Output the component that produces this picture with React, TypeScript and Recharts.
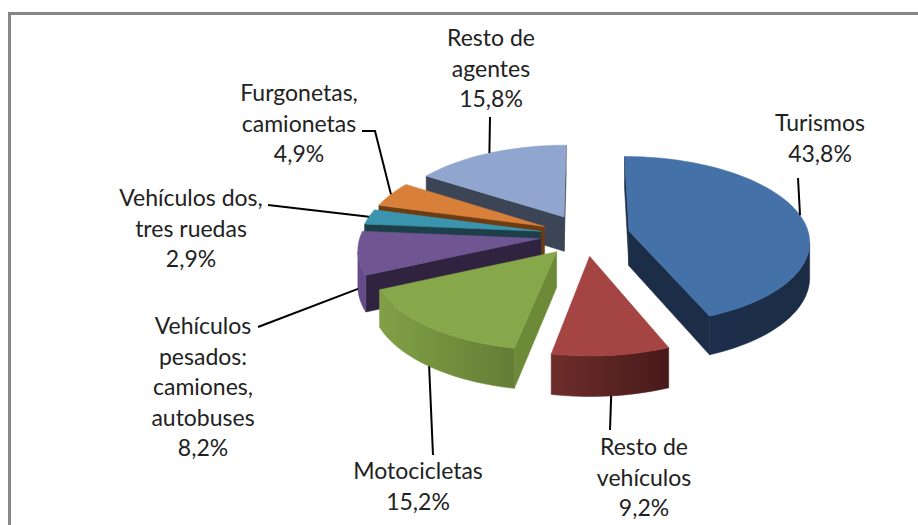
import { PieChart, Pie } from 'recharts';

// slices listed in drawing order (back to front) = counter-clockwise from 12 o'clock
const CATEGORIES = [
  'Resto de\nagentes',
  'Furgonetas,\ncamionetas',
  'Vehículos dos,\ntres ruedas',
  'Vehículos\npesados:\ncamiones,\nautobuses',
  'Motocicletas',
  'Resto de\nvehículos',
  'Turismos',
];
const SHARES = [15.8, 4.9, 2.9, 8.2, 15.2, 9.2, 43.8];

const TOP_COLORS = ['#91a6cf', '#d8803a', '#3a94ad', '#6f5591', '#87a74b', '#a54543', '#4471a7'];
const WALL_COLORS = [
  ['#4a5468', '#3c4556'],
  ['#8a4a18', '#6b3a12'],
  ['#256070', '#1c3f49'],
  ['#654b88', '#4e3a6c'],
  ['#82a046', '#5a7330'],
  ['#6e2d2b', '#471a19'],
  ['#1e3150', '#1b2c44'],
];
const FACE_COLORS = ['#3c4556', '#6e3c12', '#1c3f49', '#2f2340', '#6c8a37', '#5a2322', '#1c2e47'];

// label layout: centre x, first baseline, leader start point(s)
const LABELS = [
  { x: 491, y: 46, lead: [[490, 117]] },
  { x: 299, y: 101, lead: [[362, 131], [375, 131]] },
  { x: 191, y: 206, lead: [[268, 205]] },
  { x: 203, y: 334, lead: [[258, 327]] },
  { x: 418, y: 479, lead: [[433, 455]] },
  { x: 644, y: 455, lead: [[610, 430]] },
  { x: 820, y: 131, lead: [[798, 178]] },
];

const W = 918;
const H = 525;
const CX = 585;
const CY = 235;
const RADIUS = 180;
const TILT = 0.464;
const PERSP = 0.11;
const DEPTH = 35;
const EXPLODE = 45;
const LINE_H = 30.5;
const FONT = 'Lato, "Open Sans", sans-serif';
const RAD = Math.PI / 180;

const data = CATEGORIES.map((name, i) => ({ name, value: SHARES[i] }));

// in-plane coords (X right, F toward viewer) -> screen, with a bit of perspective
function project(X: number, F: number, z: number, cx: number, cy: number, r: number) {
  const s = 1 / (1 - (PERSP * F) / r);
  return [cx + X * s, cy + (F * TILT + z * DEPTH) * s];
}

function slicePoints(props: any) {
  const { outerRadius, startAngle, endAngle } = props;
  const mid = ((startAngle + endAngle) / 2) * RAD;
  const ox = EXPLODE * Math.cos(mid);
  const of = -EXPLODE * Math.sin(mid);
  const pts: number[][] = [[ox, of]];
  const steps = Math.max(2, Math.ceil(Math.abs(endAngle - startAngle) / 2));
  for (let i = 0; i <= steps; i++) {
    const a = (startAngle + ((endAngle - startAngle) * i) / steps) * RAD;
    pts.push([ox + outerRadius * Math.cos(a), of - outerRadius * Math.sin(a)]);
  }
  return pts;
}

const toStr = (pts: number[][]) => pts.map((p) => `${p[0].toFixed(2)},${p[1].toFixed(2)}`).join(' ');

function renderSlice(props: any) {
  const { cx, cy, outerRadius, index } = props;
  const pts = slicePoints(props);
  const n = pts.length;
  const top = pts.map(([X, F]) => project(X, F, 0, cx, cy, outerRadius));
  const bot = pts.map(([X, F]) => project(X, F, 1, cx, cy, outerRadius));
  let area = 0;
  for (let i = 0; i < n; i++) {
    const j = (i + 1) % n;
    area += top[i][0] * top[j][1] - top[j][0] * top[i][1];
  }
  const sign = Math.sign(area);
  const visible = (i: number, j: number) => sign * (top[j][0] - top[i][0]) < 0;
  const xs = bot.map((p) => p[0]);
  const gid = `wall-${index}`;
  const faces = [];

  // radial faces: apex -> first arc point, last arc point -> apex
  [[0, 1], [n - 1, 0]].forEach(([i, j]) => {
    if (!visible(i, j)) return;
    faces.push(
      <polygon key={`r${i}`} points={toStr([top[i], top[j], bot[j], bot[i]])}
        fill={FACE_COLORS[index]} stroke={FACE_COLORS[index]} strokeWidth={0.6} strokeLinejoin="round" />
    );
  });

  // outer wall: merge consecutive visible arc segments into one polygon
  let run: number[] = [];
  const flush = () => {
    if (run.length > 1) {
      const up = run.map((k) => top[k]);
      const down = run.slice().reverse().map((k) => bot[k]);
      faces.push(
        <polygon key={`w${run[0]}`} points={toStr([...up, ...down])}
          fill={`url(#${gid})`} stroke={`url(#${gid})`} strokeWidth={0.6} strokeLinejoin="round" />
      );
    }
    run = [];
  };
  for (let i = 1; i < n - 1; i++) {
    if (visible(i, i + 1)) {
      if (run.length === 0) run.push(i);
      run.push(i + 1);
    } else {
      flush();
    }
  }
  flush();

  return (
    <g key={`slice-${index}`}>
      <defs>
        <linearGradient id={gid} gradientUnits="userSpaceOnUse" x1={Math.min(...xs)} x2={Math.max(...xs)} y1={0} y2={0}>
          <stop offset="0%" stopColor={WALL_COLORS[index][0]} />
          <stop offset="100%" stopColor={WALL_COLORS[index][1]} />
        </linearGradient>
      </defs>
      {faces}
      <polygon points={toStr(top)} fill={TOP_COLORS[index]} stroke={TOP_COLORS[index]} strokeWidth={0.5} />
    </g>
  );
}

function renderLabel(props: any) {
  const { cx, cy, outerRadius, startAngle, endAngle, index, value } = props;
  const cfg = LABELS[index];
  const mid = ((startAngle + endAngle) / 2) * RAD;
  const X = (EXPLODE + outerRadius) * Math.cos(mid);
  const F = -(EXPLODE + outerRadius) * Math.sin(mid);
  const front = Math.sin(mid) < 0;
  const end = project(X, F, front ? 1 : 0, cx, cy, outerRadius);
  const lines = CATEGORIES[index].split('\n').concat(`${Number(value).toFixed(1).replace('.', ',')}%`);
  return (
    <g key={`label-${index}`}>
      <polyline points={toStr([...cfg.lead, end])} fill="none" stroke="#000" strokeWidth={2} />
      {lines.map((t, k) => (
        <text key={k} x={cfg.x} y={cfg.y + k * LINE_H} textAnchor="middle" fontFamily={FONT} fontSize={23} fill="#222">
          {t}
        </text>
      ))}
    </g>
  );
}

export default function App() {
  return (
    <div style={{ position: 'absolute', left: 0, top: 0, width: W, height: H, background: '#fff' }}>
      <div
        style={{
          position: 'absolute', left: 8, top: 12, width: W - 8, height: H - 12,
          borderTop: '3px solid #878787', borderLeft: '3px solid #878787', boxSizing: 'border-box',
        }}
      />
      <div style={{ position: 'absolute', left: 0, top: 0 }}>
        <PieChart width={W} height={H} margin={{ top: 0, right: 0, bottom: 0, left: 0 }}>
          <Pie
            data={data}
            dataKey="value"
            nameKey="name"
            cx={CX}
            cy={CY}
            outerRadius={RADIUS}
            startAngle={90}
            endAngle={450}
            fill="none"
            stroke="none"
            label={renderSlice}
            labelLine={false}
            isAnimationActive={false}
          />
          <Pie
            data={data}
            dataKey="value"
            nameKey="name"
            cx={CX}
            cy={CY}
            outerRadius={RADIUS}
            startAngle={90}
            endAngle={450}
            fill="none"
            stroke="none"
            label={renderLabel}
            labelLine={false}
            isAnimationActive={false}
          />
        </PieChart>
      </div>
    </div>
  );
}
